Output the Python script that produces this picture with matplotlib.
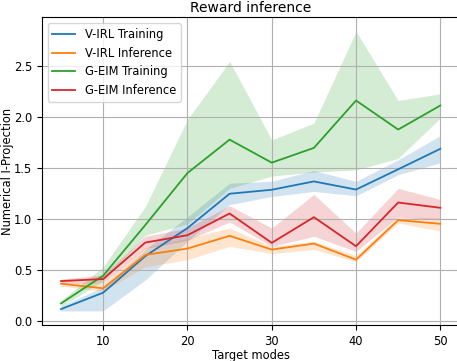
import matplotlib.pyplot as plt
import numpy as np

modes = [5, 10, 15, 20, 25, 30, 35, 40, 45, 50]

virl_train = [0.115, 0.276, 0.635, 0.91, 1.247, 1.286, 1.368, 1.288, 1.487, 1.688]
virl_train_lo = [0.096, 0.098, 0.40, 0.78, 1.14, 1.22, 1.27, 1.227, 1.434, 1.55]
virl_train_hi = [0.145, 0.33, 0.70, 1.02, 1.35, 1.37, 1.476, 1.368, 1.58, 1.818]

virl_inf = [0.364, 0.319, 0.647, 0.709, 0.834, 0.699, 0.758, 0.600, 0.988, 0.952]
virl_inf_lo = [0.34, 0.29, 0.53, 0.60, 0.73, 0.66, 0.70, 0.58, 0.96, 0.88]
virl_inf_hi = [0.38, 0.37, 0.72, 0.81, 0.91, 0.73, 0.78, 0.64, 1.02, 1.01]

geim_train = [0.171, 0.443, 0.94, 1.45, 1.778, 1.552, 1.697, 2.162, 1.877, 2.113]
geim_train_lo = [0.14, 0.39, 0.84, 0.95, 1.30, 1.42, 1.46, 1.48, 1.595, 1.99]
geim_train_hi = [0.20, 0.53, 1.12, 1.975, 2.546, 1.776, 1.94, 2.84, 2.162, 2.228]

geim_inf = [0.39, 0.41, 0.768, 0.84, 1.053, 0.765, 1.017, 0.732, 1.161, 1.109]
geim_inf_lo = [0.37, 0.37, 0.71, 0.79, 0.97, 0.73, 0.83, 0.68, 1.02, 0.99]
geim_inf_hi = [0.41, 0.45, 0.83, 0.91, 1.13, 0.91, 1.24, 0.86, 1.30, 1.19]

labels = ['V-IRL Training', 'V-IRL Inference', 'G-EIM Training', 'G-EIM Inference']
colors = ['tab:blue', 'tab:orange', 'tab:green', 'tab:red']

plt.rcParams['font.size'] = 8.3

fig = plt.figure(figsize=(4.57, 3.61), dpi=100)
ax = fig.add_axes([0.092, 0.0997, 0.913, 0.852])

series = [
    (virl_train, virl_train_lo, virl_train_hi),
    (virl_inf, virl_inf_lo, virl_inf_hi),
    (geim_train, geim_train_lo, geim_train_hi),
    (geim_inf, geim_inf_lo, geim_inf_hi),
]
for (mean, lo, hi), lab, col in zip(series, labels, colors):
    ax.plot(modes, mean, color=col, lw=1.3, label=lab)
    ax.fill_between(modes, lo, hi, color=col, alpha=0.2, lw=0)

ax.set_title('Reward inference', pad=4)
ax.set_xlabel('Target modes', labelpad=1)
ax.set_ylabel('Numerical I-Projection', labelpad=0)
ax.set_yticks([0.0, 0.5, 1.0, 1.5, 2.0, 2.5])
ax.grid(True, color='#b0b0b0', lw=0.8)
ax.legend(loc='upper left')

plt.savefig('out.png', dpi=100)
